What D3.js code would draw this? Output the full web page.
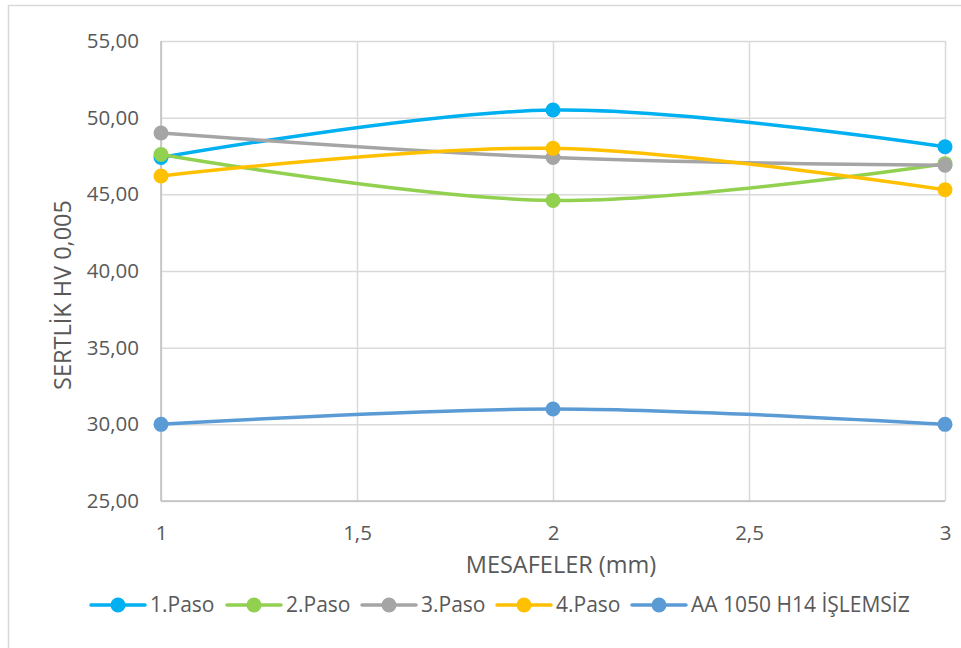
<!DOCTYPE html>
<html>
<head>
<meta charset="utf-8">
<script src="https://cdn.jsdelivr.net/npm/d3@7"></script>
<style>
  html, body { margin: 0; padding: 0; background: #fff; }
  svg { display: block; }
  text { font-family: "Open Sans", "Noto Sans", sans-serif; fill: #595959; }
</style>
</head>
<body>
<svg id="chart" width="961" height="648"></svg>
<script>
// Hardness measurements at each distance (mm)
const distances = [1, 2, 3];
const paso1 = [47.4, 50.5, 48.1];
const paso2 = [47.6, 44.6, 47.0];
const paso3 = [49.0, 47.4, 46.9];
const paso4 = [46.2, 48.0, 45.3];
const untreated = [30.0, 31.0, 30.0];

const seriesNames = ["1.Paso", "2.Paso", "3.Paso", "4.Paso", "AA 1050 H14 İŞLEMSİZ"];
const seriesColors = ["#00B0F0", "#92D050", "#A5A5A5", "#FFC000", "#5B9BD5"];
const seriesValues = [paso1, paso2, paso3, paso4, untreated];

const yTicks = [25, 30, 35, 40, 45, 50, 55];
const xTicks = [1, 1.5, 2, 2.5, 3];
const xTitle = "MESAFELER (mm)";
const yTitle = "SERTLİK HV 0,005";

const svg = d3.select("#chart");
const W = 961, H = 648;
const plot = { left: 161, right: 945, top: 41, bottom: 501 };
const tickFont = 20.5, titleFont = 23.5, legendFont = 21;

// chart area frame
svg.append("rect")
  .attr("x", 8.5).attr("y", 5.5)
  .attr("width", W + 10).attr("height", H + 10)
  .attr("fill", "#fff").attr("stroke", "#D9D9D9").attr("stroke-width", 1.5);

const x = d3.scaleLinear().domain([1, 3]).range([plot.left, plot.right]);
const y = d3.scaleLinear().domain([25, 55]).range([plot.bottom, plot.top]);

const fmtY = v => d3.format(".2f")(v).replace(".", ",");
const fmtX = v => String(v).replace(".", ",");

// horizontal gridlines + y labels
const yAxis = d3.axisLeft(y).tickValues(yTicks).tickFormat(fmtY)
  .tickSize(-(plot.right - plot.left)).tickPadding(22);
const gy = svg.append("g").attr("transform", `translate(${plot.left},0)`).call(yAxis);
gy.select(".domain").remove();
gy.selectAll("line").attr("stroke", "#D9D9D9").attr("stroke-width", 1.5);
gy.selectAll("text").attr("font-size", tickFont).style("fill", "#595959")
  .attr("font-family", "'Open Sans', sans-serif");

// vertical gridlines + x labels
const xAxis = d3.axisBottom(x).tickValues(xTicks).tickFormat(fmtX)
  .tickSize(-(plot.bottom - plot.top)).tickPadding(24);
const gx = svg.append("g").attr("transform", `translate(0,${plot.bottom})`).call(xAxis);
gx.select(".domain").remove();
gx.selectAll("line").attr("stroke", "#D9D9D9").attr("stroke-width", 1.5);
gx.selectAll("text").attr("font-size", tickFont).style("fill", "#595959")
  .attr("font-family", "'Open Sans', sans-serif");

// axis lines
svg.append("line").attr("x1", plot.left).attr("x2", plot.left)
  .attr("y1", plot.top).attr("y2", plot.bottom)
  .attr("stroke", "#BFBFBF").attr("stroke-width", 1.5);
svg.append("line").attr("x1", plot.left).attr("x2", plot.right)
  .attr("y1", plot.bottom).attr("y2", plot.bottom)
  .attr("stroke", "#BFBFBF").attr("stroke-width", 1.5);

// axis titles
svg.append("text").attr("x", 561).attr("y", 573)
  .attr("text-anchor", "middle").attr("font-size", titleFont).text(xTitle);
svg.append("text")
  .attr("transform", `translate(71,295) rotate(-90)`)
  .attr("text-anchor", "middle").attr("font-size", titleFont).text(yTitle);

// smoothed series lines with markers
const line = d3.line()
  .x((d, i) => x(distances[i]))
  .y(d => y(d))
  .curve(d3.curveCardinal.tension(0));

seriesValues.forEach((vals, k) => {
  const g = svg.append("g");
  g.append("path").datum(vals)
    .attr("d", line).attr("fill", "none")
    .attr("stroke", seriesColors[k]).attr("stroke-width", 3.5)
    .attr("stroke-linecap", "round");
  g.selectAll("circle").data(vals).join("circle")
    .attr("cx", (d, i) => x(distances[i])).attr("cy", d => y(d))
    .attr("r", 7.5).attr("fill", seriesColors[k]);
});

// legend
const legendX = [91, 227, 362, 497, 632];
const legendY = 605;
seriesNames.forEach((name, k) => {
  const g = svg.append("g").attr("transform", `translate(${legendX[k]},${legendY})`);
  g.append("line").attr("x1", 0).attr("x2", 54).attr("y1", 0).attr("y2", 0)
    .attr("stroke", seriesColors[k]).attr("stroke-width", 3.5).attr("stroke-linecap", "round");
  g.append("circle").attr("cx", 27).attr("cy", 0).attr("r", 7.5).attr("fill", seriesColors[k]);
  g.append("text").attr("x", 59).attr("y", 0).attr("dy", "0.35em")
    .attr("font-size", legendFont).text(name);
});
</script>
</body>
</html>
